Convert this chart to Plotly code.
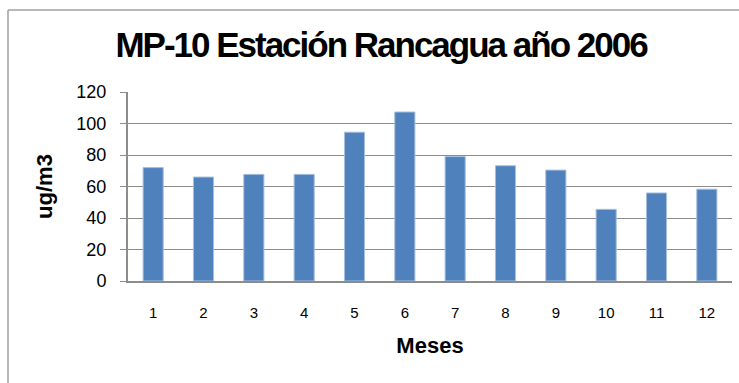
import plotly.graph_objects as go

meses = [str(i) for i in range(1, 13)]
valores = [72, 66, 67.7, 67.7, 94.5, 107.3, 79, 73.2, 70.4, 45.5, 55.9, 58.3]
y_ticks = [0, 20, 40, 60, 80, 100, 120]

W, H = 739, 383
L, R, T, B = 128, 7, 92, 102
pw, ph = W - L - R, H - T - B

fig = go.Figure(go.Bar(
    x=meses, y=valores,
    marker=dict(color="#4F81BD", line=dict(color="#A7C0E0", width=1)),
))

bx0 = (8 - L) / pw
bx1 = (W + 20 - L) / pw
by_top = (H - B - 10) / ph
by_bot = (H - B - (H + 20)) / ph
border = dict(color="#A0A0A0", width=1.5)

fig.update_layout(
    width=W, height=H,
    margin=dict(l=L, r=R, t=T, b=B),
    paper_bgcolor="white", plot_bgcolor="white",
    bargap=0.6,
    showlegend=False,
    font=dict(family="Liberation Sans, Arial, sans-serif", color="black"),
    title=dict(
        text='<span style="letter-spacing:-2px">MP-10 Estación Rancagua año 2006</span>',
        font=dict(size=35, family="Liberation Sans, Arial, sans-serif", weight="bold"),
        x=381 / W, xanchor="center",
        y=1 - 45 / H, yanchor="middle",
    ),
    xaxis=dict(
        type="category",
        showgrid=False,
        showline=True, linecolor="#8C8C8C", linewidth=2,
        ticks="", tickfont=dict(size=15),
        ticklabelstandoff=17,
        title=dict(text="Meses", font=dict(size=22, weight="bold"), standoff=18),
    ),
    yaxis=dict(
        range=[0, 120],
        tickvals=y_ticks,
        showgrid=True, gridcolor="#8C8C8C", gridwidth=1,
        showline=True, linecolor="#8C8C8C", linewidth=2,
        ticks="outside", ticklen=6, tickcolor="#8C8C8C",
        tickfont=dict(size=18),
        ticklabelstandoff=10,
        zeroline=False,
        title=dict(text="ug/m3", font=dict(size=22, weight="bold"), standoff=18),
    ),
    shapes=[
        dict(type="line", xref="paper", yref="paper",
             x0=bx0, x1=bx1, y0=by_top, y1=by_top, line=border, layer="below"),
        dict(type="line", xref="paper", yref="paper",
             x0=bx0, x1=bx0, y0=by_bot, y1=by_top, line=border, layer="below"),
    ],
)

fig.write_html("out.html")
